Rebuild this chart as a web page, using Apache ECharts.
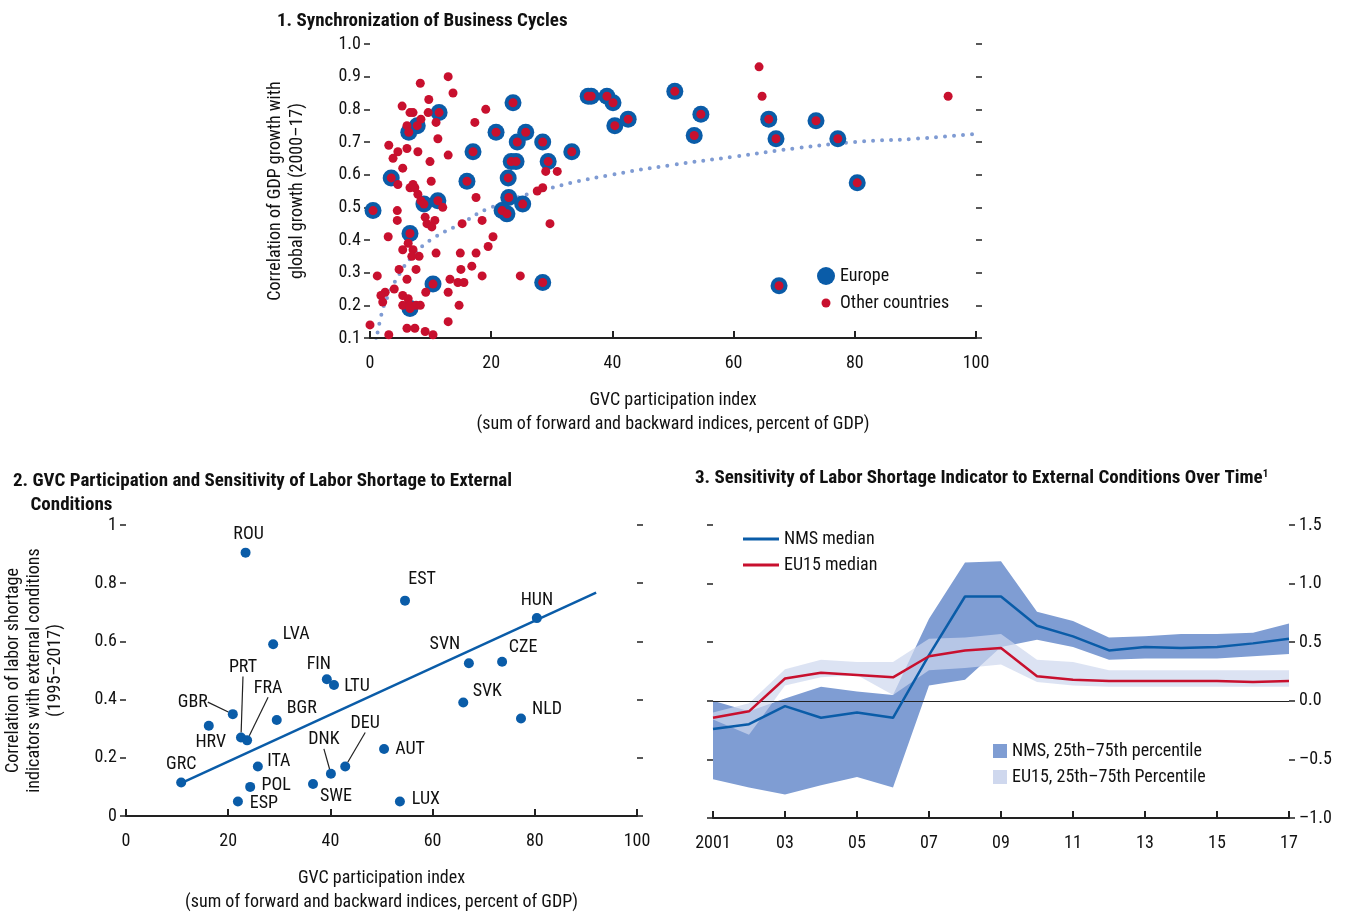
<!DOCTYPE html>
<html>
<head>
<meta charset="utf-8">
<script src="https://cdn.jsdelivr.net/npm/echarts@6/dist/echarts.min.js"></script>
<style>html,body{margin:0;padding:0;background:#fff}#chart{width:1346px;height:915px}</style>
</head>
<body>
<div id="chart"></div>
<script>
// panel 1: GVC participation vs business cycle sync
var europe = [[0.5,0.49],[3.5,0.59],[6.4,0.73],[7.8,0.75],[11.4,0.79],[6.6,0.42],[8.9,0.51],[11.2,0.52],[10.4,0.265],[6.6,0.19],
  [16.0,0.58],[17.0,0.67],[20.8,0.73],[23.6,0.82],[24.3,0.70],[25.7,0.73],[28.5,0.70],[29.4,0.64],[23.3,0.64],[24.1,0.64],
  [22.8,0.59],[22.9,0.53],[21.8,0.49],[22.6,0.48],[25.2,0.51],[28.5,0.27],[33.3,0.67],[36.0,0.84],[36.5,0.84],[39.1,0.84],
  [40.1,0.82],[40.4,0.75],[42.6,0.77],[50.3,0.855],[53.5,0.72],[54.6,0.785],[65.8,0.77],[67.0,0.71],[67.5,0.26],[73.6,0.765],
  [77.2,0.71],[80.4,0.575]];
var otherOnly = [[12.9,0.90],[8.3,0.88],[13.7,0.85],[9.7,0.83],[5.3,0.81],[6.6,0.79],[7.1,0.79],[9.6,0.79],[8.4,0.77],[10.9,0.76],
  [19.1,0.80],[17.3,0.76],[6.1,0.75],[11.2,0.71],[3.1,0.69],[6.1,0.68],[4.6,0.67],[7.9,0.67],[3.8,0.65],[12.9,0.66],
  [9.9,0.64],[5.4,0.62],[10.1,0.58],[4.6,0.57],[6.6,0.56],[7.4,0.56],[7.1,0.57],[7.9,0.54],[8.4,0.52],[17.5,0.53],
  [12.0,0.50],[4.5,0.49],[4.5,0.46],[9.1,0.47],[10.7,0.46],[15.2,0.45],[18.5,0.46],[9.4,0.45],[10.2,0.44],[29.7,0.45],
  [29.0,0.61],[30.9,0.61],[28.5,0.56],[27.6,0.55],[3.0,0.41],[20.3,0.41],[6.3,0.39],[19.5,0.38],[5.4,0.37],[7.1,0.37],
  [14.9,0.36],[17.5,0.36],[10.9,0.36],[8.1,0.35],[6.9,0.35],[4.8,0.31],[7.6,0.31],[15.0,0.31],[16.8,0.32],[1.2,0.29],
  [6.1,0.28],[13.2,0.28],[18.5,0.29],[24.8,0.29],[14.5,0.27],[15.5,0.27],[4.0,0.25],[9.2,0.24],[2.5,0.24],[1.8,0.23],
  [5.4,0.23],[12.9,0.24],[2.1,0.21],[6.3,0.22],[5.4,0.20],[6.6,0.20],[7.6,0.20],[8.3,0.20],[14.7,0.20],[6.1,0.13],
  [7.4,0.13],[9.1,0.12],[10.4,0.11],[0,0.14],[3.1,0.11],[12.9,0.15],[64.2,0.93],[64.7,0.84],[95.4,0.84]];
var trendX = [1,2,3,5,7,10,15,20,30,40,50,60,70,80,90,100];
var trendY = [0.09,0.18,0.23,0.30,0.35,0.40,0.45,0.50,0.56,0.60,0.63,0.655,0.68,0.70,0.71,0.725];

// panel 2: countries
var countries = ['ROU','EST','HUN','LVA','SVN','CZE','FIN','LTU','PRT','FRA','GBR','HRV','BGR','SVK','NLD','DEU','DNK','AUT','ITA','POL','ESP','SWE','LUX','GRC'];
var gvc = [23.4,54.6,80.4,28.8,67.1,73.6,39.3,40.7,22.5,23.7,20.9,16.2,29.5,66.0,77.3,42.9,40.1,50.5,25.8,24.3,21.9,36.6,53.6,10.8];
var laborCorr = [0.905,0.74,0.68,0.59,0.525,0.53,0.47,0.45,0.27,0.26,0.35,0.31,0.33,0.39,0.335,0.17,0.145,0.23,0.17,0.10,0.05,0.11,0.05,0.115];
var fitX = [10.8,92];
var fitY = [0.113,0.768];

// panel 3: over time
var years = ['2001','02','03','04','05','06','07','08','09','10','11','12','13','14','15','16','17'];
var nmsMedian = [-0.24,-0.2,-0.045,-0.145,-0.1,-0.145,0.39,0.89,0.89,0.64,0.55,0.43,0.46,0.45,0.46,0.49,0.53];
var nmsLow = [-0.67,-0.74,-0.8,-0.72,-0.65,-0.74,0.13,0.18,0.46,0.52,0.46,0.35,0.36,0.36,0.36,0.38,0.4];
var nmsHigh = [0,-0.09,0.02,0.12,0.08,0.05,0.7,1.18,1.19,0.76,0.68,0.54,0.55,0.57,0.57,0.58,0.66];
var euMedian = [-0.145,-0.09,0.19,0.24,0.22,0.2,0.38,0.43,0.45,0.21,0.18,0.17,0.17,0.17,0.17,0.16,0.17];
var euLow = [-0.16,-0.29,0.13,0.2,0.22,0.05,0.26,0.28,0.31,0.16,0.13,0.12,0.12,0.12,0.12,0.12,0.12];
var euHigh = [-0.1,-0.02,0.27,0.35,0.33,0.33,0.53,0.54,0.57,0.35,0.33,0.26,0.26,0.26,0.26,0.26,0.26];

var labelOffsets = {ROU:[3,-18],EST:[17,-21],HUN:[0,-18],LVA:[23,-10],SVN:[-24,-19],CZE:[21,-14],FIN:[-8,-15],LTU:[23,1],
  PRT:[2,-70],FRA:[21,-52],GBR:[-40,-12],HRV:[2,17],BGR:[25,-11],SVK:[24,-11],NLD:[26,-9],DEU:[20,-43],DNK:[-7,-34],
  AUT:[26,0],ITA:[21,-5],POL:[26,-1],ESP:[26,2],SWE:[23,13],LUX:[26,-2],GRC:[0,-18]};
var leaders = ['PRT','FRA','GBR','DEU','DNK'];

var FONT = '"Liberation Sans Narrow","Roboto Condensed",Roboto,sans-serif';
var BLUE = '#0a5ca8', RED = '#c8102e';
var txt = {fontFamily: FONT, fontSize: 18, color: '#111'};

function diff(a, b){ return a.map(function(v, i){ return +(v - b[i]).toFixed(3); }); }
function pairs(xs, ys){ return xs.map(function(x, i){ return [x, ys[i]]; }); }

var chart = echarts.init(document.getElementById('chart'));
var tickStyle = {show: true, length: 6, lineStyle: {color: '#222', width: 1.5}};
var nameStyle = {fontFamily: FONT, fontSize: 18, color: '#111', lineHeight: 24};

var option = {
  animation: false,
  textStyle: {fontFamily: FONT},
  title: [
    {text: '1. Synchronization of Business Cycles', left: 272, top: 7, textStyle: {fontFamily: FONT, fontSize: 19, fontWeight: 'bold', color: '#111'}},
    {text: '2. GVC Participation and Sensitivity of Labor Shortage to External\n    Conditions', left: 8, top: 464, textStyle: {fontFamily: FONT, fontSize: 19, fontWeight: 'bold', color: '#111', lineHeight: 24}},
    {text: '3. Sensitivity of Labor Shortage Indicator to External Conditions Over Time{s|1}', left: 690, top: 464,
      textStyle: {fontFamily: FONT, fontSize: 19, fontWeight: 'bold', color: '#111', rich: {s: {fontSize: 11, fontWeight: 'bold', verticalAlign: 'top', padding: [0,0,8,0]}}}}
  ],
  legend: [
    {data: [{name: 'Europe', itemStyle: {color: BLUE}}, {name: 'Other countries', icon: 'image://data:image/svg+xml;utf8,' + encodeURIComponent('<svg xmlns="http://www.w3.org/2000/svg" width="18" height="18"><circle cx="9" cy="9" r="4.5" fill="#c8102e"/></svg>')}],
      orient: 'vertical', left: 812, top: 262, itemGap: 9, itemWidth: 18, itemHeight: 18, textStyle: txt},
    {data: ['NMS median', 'EU15 median'], orient: 'vertical', left: 738, top: 525, itemGap: 8, itemWidth: 36, itemHeight: 3,
      icon: 'rect', textStyle: txt},
    {data: ['NMS, 25th–75th percentile', 'EU15, 25th–75th Percentile'], orient: 'vertical', left: 988, top: 737, itemGap: 8,
      itemWidth: 14, itemHeight: 14, icon: 'rect', textStyle: txt}
  ],
  grid: [
    {left: 370, right: 370, top: 44, bottom: 577},
    {left: 126, right: 709, top: 525, bottom: 97},
    {left: 713, right: 57, top: 525, bottom: 97}
  ],
  xAxis: [
    {gridIndex: 0, type: 'value', min: 0, max: 100, interval: 20, splitLine: {show: false},
      axisLine: {onZero: false, lineStyle: {color: '#222', width: 2}}, axisTick: {show: true, inside: true, length: 7, lineStyle: {color: '#222', width: 2}},
      axisLabel: Object.assign({margin: 16}, txt), name: 'GVC participation index\n(sum of forward and backward indices, percent of GDP)', nameLocation: 'middle', nameGap: 50,
      nameTextStyle: nameStyle},
    {gridIndex: 1, type: 'value', min: 0, max: 100, interval: 20, splitLine: {show: false},
      axisLine: {onZero: false, lineStyle: {color: '#222', width: 2}}, axisTick: {show: true, inside: true, length: 7, lineStyle: {color: '#222', width: 2}},
      axisLabel: Object.assign({margin: 16}, txt), name: 'GVC participation index\n(sum of forward and backward indices, percent of GDP)', nameLocation: 'middle', nameGap: 50,
      nameTextStyle: nameStyle},
    {gridIndex: 2, type: 'category', data: years, boundaryGap: false,
      axisLine: {onZero: false, lineStyle: {color: '#222', width: 2}}, axisTick: {show: true, inside: true, length: 7, interval: 1, lineStyle: {color: '#222', width: 2}},
      axisLabel: Object.assign({interval: 1, margin: 16}, txt)}
  ],
  yAxis: [
    {gridIndex: 0, type: 'value', min: 0.1, max: 1.0, interval: 0.1, splitLine: {show: false}, axisLine: {show: false},
      axisTick: tickStyle, axisLabel: Object.assign({margin: 9, formatter: function(v){ return v.toFixed(1); }}, txt),
      name: 'Correlation of GDP growth with\nglobal growth (2000–17)', nameLocation: 'middle', nameGap: 62,
      nameTextStyle: {fontFamily: FONT, fontSize: 18, color: '#111', lineHeight: 22}},
    {gridIndex: 0, type: 'value', position: 'right', min: 0.1, max: 1.0, interval: 0.1, splitLine: {show: false}, axisLine: {show: false},
      axisTick: tickStyle, axisLabel: {show: false}},
    {gridIndex: 1, type: 'value', min: 0, max: 1, interval: 0.2, splitLine: {show: false}, axisLine: {show: false},
      axisTick: tickStyle, axisLabel: Object.assign({margin: 9, formatter: function(v){ return v === 0 || v === 1 ? String(v) : v.toFixed(1); }}, txt),
      name: 'Correlation of labor shortage\nindicators with external conditions\n(1995–2017)', nameLocation: 'middle', nameGap: 60,
      nameTextStyle: {fontFamily: FONT, fontSize: 18, color: '#111', lineHeight: 21}},
    {gridIndex: 1, type: 'value', position: 'right', min: 0, max: 1, interval: 0.2, splitLine: {show: false}, axisLine: {show: false},
      axisTick: tickStyle, axisLabel: {show: false}},
    {gridIndex: 2, type: 'value', min: -1, max: 1.5, interval: 0.5, splitLine: {show: false}, axisLine: {show: false},
      axisTick: tickStyle, axisLabel: {show: false}},
    {gridIndex: 2, type: 'value', position: 'right', min: -1, max: 1.5, interval: 0.5, splitLine: {show: false}, axisLine: {show: false},
      axisTick: tickStyle, axisLabel: Object.assign({margin: 10, formatter: function(v){ return v < 0 ? '–' + (-v).toFixed(1) : v.toFixed(1); }}, txt)}
  ],
  series: [
    {name: 'trend', type: 'line', xAxisIndex: 0, yAxisIndex: 0, data: pairs(trendX, trendY), smooth: true, symbol: 'none',
      lineStyle: {color: '#7f9bd3', width: 4, type: [0, 9], cap: 'round'}, z: 1},
    {name: 'Europe', type: 'scatter', xAxisIndex: 0, yAxisIndex: 0, data: europe, symbolSize: 17, itemStyle: {color: BLUE, opacity: 1}, z: 2},
    {name: 'Other countries', type: 'scatter', xAxisIndex: 0, yAxisIndex: 0, data: otherOnly.concat(europe), symbolSize: 9, itemStyle: {color: RED, opacity: 1}, z: 3},

    {name: 'fit', type: 'line', xAxisIndex: 1, yAxisIndex: 2, data: pairs(fitX, fitY), symbol: 'none', lineStyle: {color: BLUE, width: 2.5}},
    {name: 'countries', type: 'scatter', xAxisIndex: 1, yAxisIndex: 2, symbolSize: 10, itemStyle: {color: BLUE, opacity: 1},
      data: countries.map(function(c, i){
        return {name: c, value: [gvc[i], laborCorr[i]], labelLine: {show: leaders.indexOf(c) >= 0, lineStyle: {color: '#222', width: 1.2}}};
      }),
      label: {show: true, position: 'inside', formatter: '{b}', fontFamily: FONT, fontSize: 18, color: '#111'},
      labelLayout: function(p){ var o = labelOffsets[countries[p.dataIndex]]; return {dx: o[0], dy: o[1]}; }},

    {name: 'nmsBase', type: 'line', xAxisIndex: 2, yAxisIndex: 5, stack: 'nms', stackStrategy: 'all', data: nmsLow, symbol: 'none', lineStyle: {opacity: 0}},
    {name: 'NMS, 25th–75th percentile', type: 'line', xAxisIndex: 2, yAxisIndex: 5, stack: 'nms', stackStrategy: 'all', data: diff(nmsHigh, nmsLow),
      symbol: 'none', lineStyle: {opacity: 0}, itemStyle: {color: '#7f9dd3'}, areaStyle: {color: '#7f9dd3', opacity: 1}},
    {name: 'euBase', type: 'line', xAxisIndex: 2, yAxisIndex: 5, stack: 'eu', stackStrategy: 'all', data: euLow, symbol: 'none', lineStyle: {opacity: 0}},
    {name: 'EU15, 25th–75th Percentile', type: 'line', xAxisIndex: 2, yAxisIndex: 5, stack: 'eu', stackStrategy: 'all', data: diff(euHigh, euLow),
      symbol: 'none', lineStyle: {opacity: 0}, itemStyle: {color: '#cfd8ee'}, areaStyle: {color: 'rgba(205,215,238,0.7)', opacity: 1}},
    {name: 'NMS median', type: 'line', xAxisIndex: 2, yAxisIndex: 5, data: nmsMedian, symbol: 'none', itemStyle: {color: BLUE}, lineStyle: {color: BLUE, width: 2.5}, z: 5,
      markLine: {silent: true, symbol: 'none', label: {show: false}, lineStyle: {color: '#222', width: 1, type: 'solid'}, data: [{yAxis: 0}]}},
    {name: 'EU15 median', type: 'line', xAxisIndex: 2, yAxisIndex: 5, data: euMedian, symbol: 'none', itemStyle: {color: RED}, lineStyle: {color: RED, width: 2.5}, z: 5}
  ]
};
chart.setOption(option);
</script>
</body>
</html>
